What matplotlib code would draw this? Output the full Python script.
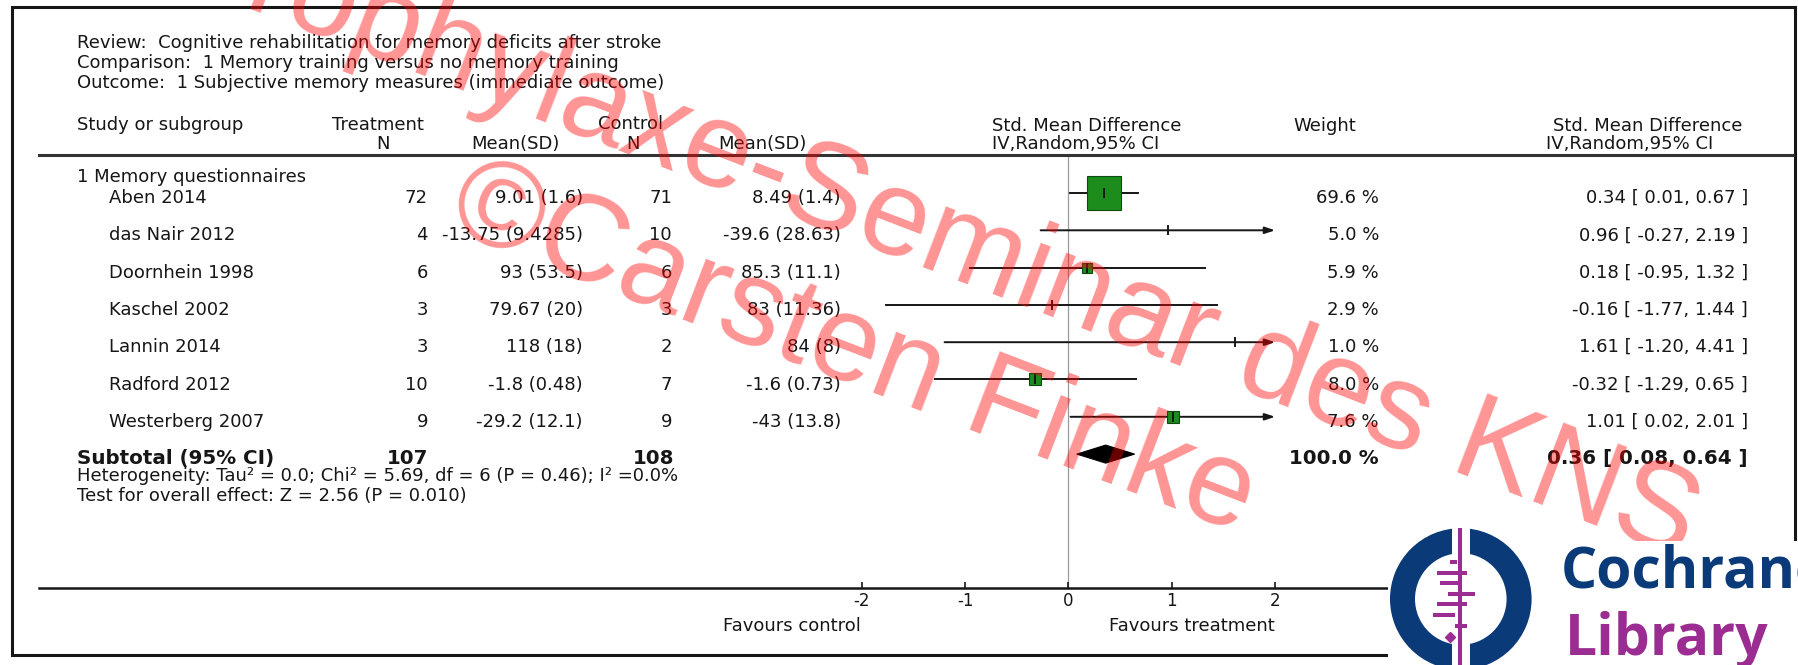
import numpy as np
import matplotlib
matplotlib.use('Agg')
import matplotlib.pyplot as plt
from matplotlib.patches import Rectangle, Wedge, Polygon

# Studies of subgroup "1 Memory questionnaires"
studies = ['Aben 2014', 'das Nair 2012', 'Doornhein 1998', 'Kaschel 2002',
           'Lannin 2014', 'Radford 2012', 'Westerberg 2007']
treat_n = [72, 4, 6, 3, 3, 10, 9]
treat_mean = [9.01, -13.75, 93, 79.67, 118, -1.8, -29.2]
treat_sd = [1.6, 9.4285, 53.5, 20, 18, 0.48, 12.1]
ctrl_n = [71, 10, 6, 3, 2, 7, 9]
ctrl_mean = [8.49, -39.6, 85.3, 83, 84, -1.6, -43]
ctrl_sd = [1.4, 28.63, 11.1, 11.36, 8, 0.73, 13.8]
weights = [69.6, 5.0, 5.9, 2.9, 1.0, 8.0, 7.6]
smd = [0.34, 0.96, 0.18, -0.16, 1.61, -0.32, 1.01]
ci_low = [0.01, -0.27, -0.95, -1.77, -1.20, -1.29, 0.02]
ci_high = [0.67, 2.19, 1.32, 1.44, 4.41, 0.65, 2.01]

# Pooled result
total_treat_n = 107
total_ctrl_n = 108
total_weight = 100.0
total_smd = 0.36
total_low = 0.08
total_high = 0.64

scale_ticks = [-2, -1, 0, 1, 2]
scale_labels = ['-2', '-1', '0', '1', '2']

W, H = 1799, 665
X0, UNIT = 1068.5, 103.3      # pixel of SMD 0, pixels per SMD unit
ROW0, ROW = 193.0, 37.3       # pixel of first study row, row pitch

ink = '#161616'
green = '#1c8c1c'
navy = '#0b3a78'
purple = '#9a2c92'


def row_of(py):
    return (py - ROW0) / ROW


def unit_of(px):
    return (px - X0) / UNIT


def fmt_msd(m, s):
    return f'{m:g} ({s:g})'


def fmt_ci(e, lo, hi):
    return f'{e:.2f} [ {lo:.2f}, {hi:.2f} ]'


plt.rcParams['font.family'] = ['DejaVu Sans']
fig = plt.figure(figsize=(W / 100, H / 100), dpi=100)

# forest axes: x in SMD units, y in rows
ax = fig.add_axes([0, 0, 1, 1])
ax.set_xlim(unit_of(0), unit_of(W))
ax.set_ylim(row_of(H), row_of(0))
ax.patch.set_visible(False)
for s in ['top', 'left', 'right']:
    ax.spines[s].set_visible(False)
ax.spines['bottom'].set_position(('data', row_of(588)))
ax.spines['bottom'].set_bounds(unit_of(39), unit_of(W))
ax.spines['bottom'].set_linewidth(1.8)
ax.spines['bottom'].set_color(ink)
ax.set_yticks([])
ax.set_xticks(scale_ticks)
ax.set_xticklabels(scale_labels)
ax.tick_params(axis='x', direction='in', length=4, width=1.2, pad=3,
               labelsize=12, colors=ink)

lim_lo, lim_hi = scale_ticks[0], scale_ticks[-1]
ax.plot([0, 0], [row_of(155), row_of(588)], color='#9a9a9a', lw=0.9, zorder=1)

for i in range(len(studies)):
    lo = max(ci_low[i], lim_lo)
    hi = min(ci_high[i], lim_hi)
    if ci_high[i] > lim_hi:
        ax.annotate('', xy=(hi, i), xytext=(lo, i),
                    arrowprops=dict(arrowstyle='-|>,head_length=0.6,head_width=0.2',
                                    color=ink, lw=1.4, shrinkA=0, shrinkB=0,
                                    mutation_scale=10), zorder=3)
    else:
        ax.plot([lo, hi], [i, i], color=ink, lw=1.4, zorder=3)
    side = 4.0 * np.sqrt(weights[i])
    if side >= 9.5:
        ax.plot(smd[i], i, 's', ms=side * 0.72, mfc=green, mec='#0e4a0e',
                mew=0.8, zorder=4)
    ax.plot(smd[i], i, '|', ms=7, mew=1.4, color=ink, zorder=5)

ty = len(studies)
hh = 9 / ROW
ax.add_patch(Polygon([[total_low, ty], [total_smd, ty - hh],
                      [total_high, ty], [total_smd, ty + hh]],
                     closed=True, fc='black', ec='black', lw=0.8, zorder=4))

# layout axes in pixels for the table text
lay = fig.add_axes([0, 0, 1, 1])
lay.set_xlim(0, W)
lay.set_ylim(H, 0)
lay.axis('off')

lay.add_patch(Rectangle((12, 7), 1783, 648, fill=False, ec=ink, lw=2.2, zorder=2))
lay.plot([39, 1793], [155, 155], color='#333333', lw=2.2, zorder=2)

fs = 13
kw = dict(fontsize=fs, color=ink, va='baseline')
lay.text(77.5, 48, 'Review:  Cognitive rehabilitation for memory deficits after stroke', **kw)
lay.text(77.5, 68, 'Comparison:  1 Memory training versus no memory training', **kw)
lay.text(77.5, 88, 'Outcome:  1 Subjective memory measures (immediate outcome)', **kw)

lay.text(77.5, 130, 'Study or subgroup', **kw)
lay.text(378, 130, 'Treatment', ha='center', **kw)
lay.text(383, 149, 'N', ha='center', **kw)
lay.text(515, 149, 'Mean(SD)', ha='center', **kw)
lay.text(631, 129, 'Control', ha='center', **kw)
lay.text(633, 149, 'N', ha='center', **kw)
lay.text(762, 149, 'Mean(SD)', ha='center', **kw)
lay.text(992, 131, 'Std. Mean Difference', **kw)
lay.text(992, 149, 'IV,Random,95% CI', **kw)
lay.text(1293, 131, 'Weight', **kw)
lay.text(1553, 131, 'Std. Mean Difference', **kw)
lay.text(1546, 149, 'IV,Random,95% CI', **kw)

lay.text(77.5, 182, '1 Memory questionnaires', **kw)
for i, name in enumerate(studies):
    by = ROW0 + i * ROW + 10
    lay.text(109, by, name, **kw)
    lay.text(428, by, str(treat_n[i]), ha='right', **kw)
    lay.text(583, by, fmt_msd(treat_mean[i], treat_sd[i]), ha='right', **kw)
    lay.text(672, by, str(ctrl_n[i]), ha='right', **kw)
    lay.text(841, by, fmt_msd(ctrl_mean[i], ctrl_sd[i]), ha='right', **kw)
    lay.text(1379, by, f'{weights[i]:.1f} %', ha='right', **kw)
    lay.text(1748, by, fmt_ci(smd[i], ci_low[i], ci_high[i]), ha='right', **kw)

bkw = dict(kw, fontweight='bold', fontsize=14.3)
sy = 464
lay.text(77.5, sy, 'Subtotal (95% CI)', **bkw)
lay.text(428, sy, str(total_treat_n), ha='right', **bkw)
lay.text(674, sy, str(total_ctrl_n), ha='right', **bkw)
lay.text(1379, sy, f'{total_weight:.1f} %', ha='right', **bkw)
lay.text(1748, sy, fmt_ci(total_smd, total_low, total_high), ha='right', **bkw)
lay.text(77.5, 481, 'Heterogeneity: Tau\u00b2 = 0.0; Chi\u00b2 = 5.69, df = 6 (P = 0.46); I\u00b2 =0.0%', **kw)
lay.text(77.5, 501, 'Test for overall effect: Z = 2.56 (P = 0.010)', **kw)

lay.text(861, 631, 'Favours control', ha='right', **kw)
lay.text(1109, 631, 'Favours treatment', **kw)

# watermark
wm = dict(family=['Liberation Sans', 'DejaVu Sans'], color='red', alpha=0.42,
          fontsize=88, rotation=-21, rotation_mode='anchor', ha='center',
          va='baseline', zorder=15)
lay.text(924, 268, 'Prophylaxe-Seminar des KNS', **wm)
lay.text(842, 381, '\u00a9Carsten Finke', **wm)

# logo
cx, cy, r_out = 1460.8, 599.0, 70.8
lay.add_patch(Rectangle((1388, 541), W - 1388, H - 541, fc='white', ec='none', zorder=20))
lay.add_patch(Wedge((cx, cy), r_out, 0, 360, width=25, fc=navy, ec='none', zorder=21))
lay.add_patch(Rectangle((cx - 8.8, cy - r_out - 2), 17.6, 2 * r_out + 4,
                        fc='white', ec='none', zorder=22))
lay.plot([1460, 1460], [528, H], color=purple, lw=2.9, solid_capstyle='butt', zorder=23)
logo_bars = [(562, 1450, 1457), (573, 1437, 1467), (583, 1440, 1460),
             (594, 1448, 1475), (604, 1437, 1467), (615, 1433, 1455),
             (626, 1455, 1467)]
for y, x0, x1 in logo_bars:
    lay.plot([x0, x1], [y, y], color=purple, lw=2.9, solid_capstyle='butt', zorder=23)
lay.plot(1450, 637, 'D', ms=5, color=purple, zorder=23)
lay.text(1561, 588, 'Cochrane', fontsize=41, fontweight='bold',
         family=['Open Sans', 'DejaVu Sans'], color=navy, va='baseline', zorder=24)
lay.text(1565, 655, 'Library', fontsize=41, fontweight='bold',
         family=['Open Sans', 'DejaVu Sans'], color=purple, va='baseline', zorder=24)

fig.savefig('out.png', dpi=100)
